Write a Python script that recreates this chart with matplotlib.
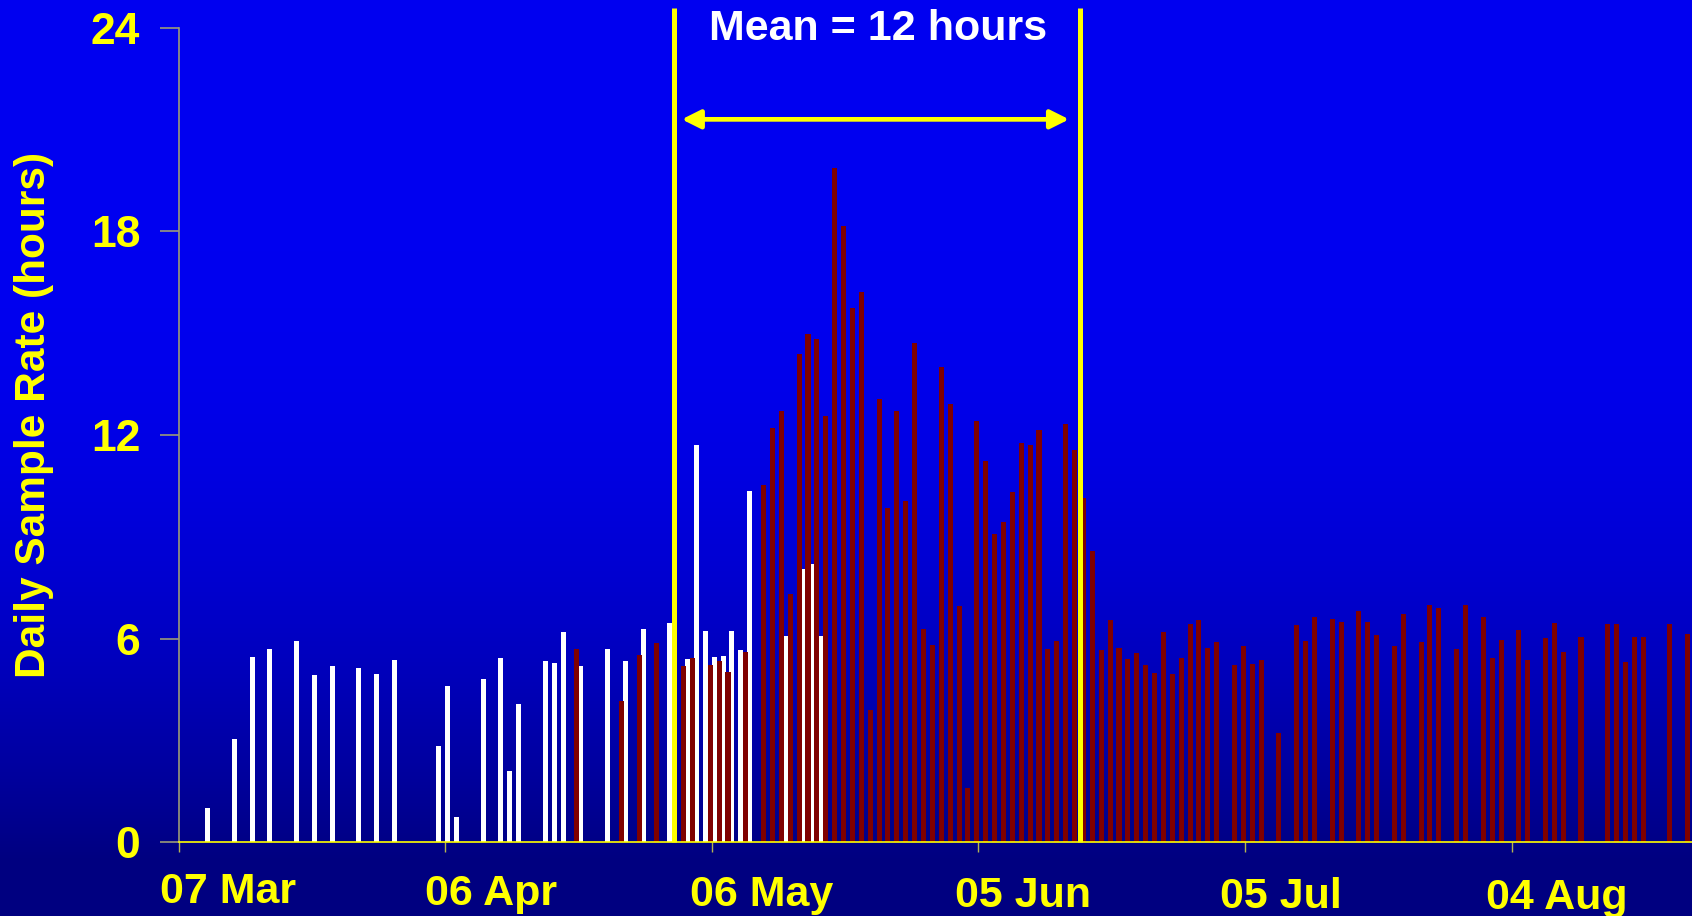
import numpy as np
import matplotlib
matplotlib.use("Agg")
import matplotlib.pyplot as plt
from matplotlib.transforms import offset_copy

# days counted from 07 Mar
white_days = [3, 6, 8, 10, 13, 15, 17, 20, 22, 24, 29, 30, 31, 34, 36, 37, 38,
              41, 42, 43, 45, 48, 50, 52, 55, 57, 58, 59, 60, 61, 62, 63, 64,
              68, 70, 71, 72]
white_vals = [1.0, 3.04, 5.45, 5.69, 5.94, 4.92, 5.19, 5.14, 4.96, 5.37, 2.83, 4.6, 0.75,
              4.81, 5.44, 2.09, 4.07, 5.33, 5.29, 6.19, 5.19, 5.69, 5.33, 6.29, 6.47,
              5.41, 11.7, 6.23, 5.45, 5.48, 6.23, 5.67, 10.35, 6.07, 8.06, 8.2, 6.08]

red_days = [44, 49, 51, 53, 56, 57, 59, 60, 61, 63, 65, 66, 67, 68, 69, 70, 71, 72,
            73, 74, 75, 76, 77, 78, 79, 80, 81, 82, 83, 84, 85, 86, 87, 88, 89, 90,
            91, 92, 93, 94, 95, 96, 97, 98, 99, 100, 101, 102, 103, 104, 105, 106,
            107, 108, 109, 110, 111, 112, 113, 114, 115, 116, 118, 119, 120, 121,
            123, 125, 126, 127, 129, 130, 132, 133, 134, 136, 137, 139, 140, 141,
            143, 144, 146, 147, 148, 150, 151, 153, 154, 155, 157, 160, 161, 162,
            163, 164, 167, 169]
red_vals = [5.69, 4.17, 5.51, 5.86, 5.19, 5.44, 5.22, 5.34, 5.03, 5.62, 10.53, 12.21,
            12.72, 7.32, 14.39, 14.98, 14.82, 12.56, 19.86, 18.15, 15.75, 16.21, 3.89,
            13.07, 9.85, 12.7, 10.07, 14.71, 6.28, 5.8, 14.0, 12.91, 6.96, 1.6, 12.41,
            11.23, 9.08, 9.45, 10.33, 11.76, 11.72, 12.14, 5.7, 5.93, 12.33, 11.56,
            10.15, 8.58, 5.66, 6.55, 5.73, 5.4, 5.58, 5.22, 4.99, 6.2, 4.96, 5.44,
            6.44, 6.55, 5.73, 5.9, 5.22, 5.79, 5.26, 5.37, 3.22, 6.39, 5.93, 6.64,
            6.57, 6.5, 6.81, 6.5, 6.11, 5.79, 6.72, 5.9, 6.99, 6.89, 5.7, 6.99, 6.64,
            5.44, 5.97, 6.26, 5.37, 6.02, 6.46, 5.62, 6.05, 6.43, 6.43, 5.3, 6.05,
            6.05, 6.43, 6.15]

tick_days = [0, 30, 60, 90, 120, 150]
tick_labels = ["07 Mar", "06 Apr", "06 May", "05 Jun", "05 Jul", "04 Aug"]
y_ticks = [0, 6, 12, 18, 24]

period_start = 55.76
period_end = 101.37
mean_text = "Mean = 12 hours"

plt.rcParams['font.family'] = ['Liberation Sans', 'DejaVu Sans']
plt.rcParams['font.weight'] = 'bold'

W, H = 1692, 916
fig = plt.figure(figsize=(W / 100, H / 100), dpi=100, facecolor='#000080')

# background gradient
bg = fig.add_axes([0, 0, 1, 1], zorder=-10)
rows = np.arange(H)
t = np.clip((rows - 250) / 610.0, 0, 1)
img = np.zeros((H, 1, 3))
img[:, 0, 2] = (240 - 112 * t ** 2) / 255.0
bg.imshow(img, aspect='auto', extent=[0, 1, 0, 1])
bg.axis('off')

x0, y0, ytop = 178.8, 842.3, 27.7
ax = fig.add_axes([x0 / W, (H - y0) / H, 1 - x0 / W, (y0 - ytop) / H])
ax.patch.set_alpha(0)

ax.bar(np.array(white_days) + 0.25, white_vals, width=0.57, color='white', linewidth=0)
ax.bar(np.array(red_days) + 0.81, red_vals, width=0.57, color='#800000', linewidth=0)

ax.set_xlim(0, 170.3)
ax.set_ylim(0, 24)

for s in ['top', 'right']:
    ax.spines[s].set_visible(False)
ax.spines['left'].set_color('#9a9a78')
ax.spines['left'].set_linewidth(1.2)
ax.spines['bottom'].set_color('yellow')
ax.spines['bottom'].set_linewidth(1.2)

ax.set_yticks(y_ticks)
ax.tick_params(axis='y', length=13.7, width=1.2, color='#9a9a78', pad=14,
               labelsize=32, labelcolor='yellow')
for lab in ax.get_yticklabels():
    lab.set_fontweight('bold')
ax.yaxis.get_major_ticks()[0].tick1line.set_color('yellow')

ax.set_xticks(tick_days)
ax.set_xticklabels([])
ax.tick_params(axis='x', length=7.2, width=1, color='#b4b450')

for i, (d, lab) in enumerate(zip(tick_days, tick_labels)):
    tr = offset_copy(ax.get_xaxis_transform(), fig=fig, x=-(19 + 1.4 * i),
                     y=-(61 + 1.2 * i), units='dots')
    ax.text(d, 0, lab, transform=tr, ha='left', va='baseline', fontsize=31,
            color='yellow', fontweight='bold', clip_on=False)

fig.text(34.5 / W, 1 - 414.5 / H, "Daily Sample Rate (hours)", rotation=90,
         ha='center', va='center', fontsize=30.5, color='yellow', fontweight='bold')

# mean period markers
for xv in [period_start, period_end]:
    ax.plot([xv, xv], [0, 24.57], color='yellow', lw=3.6, clip_on=False, zorder=5,
            solid_capstyle='butt')
ax.annotate("", xy=(100.2, 21.3), xytext=(56.6, 21.3),
            arrowprops=dict(arrowstyle='<|-|>', color='yellow', lw=3.4,
                            mutation_scale=28, shrinkA=0, shrinkB=0))
ax.text((period_start + period_end) / 2 + 0.1, 23.64, mean_text, ha='center',
        va='baseline', fontsize=31, color='white', fontweight='bold', clip_on=False)

fig.savefig("out.png", dpi=100)
